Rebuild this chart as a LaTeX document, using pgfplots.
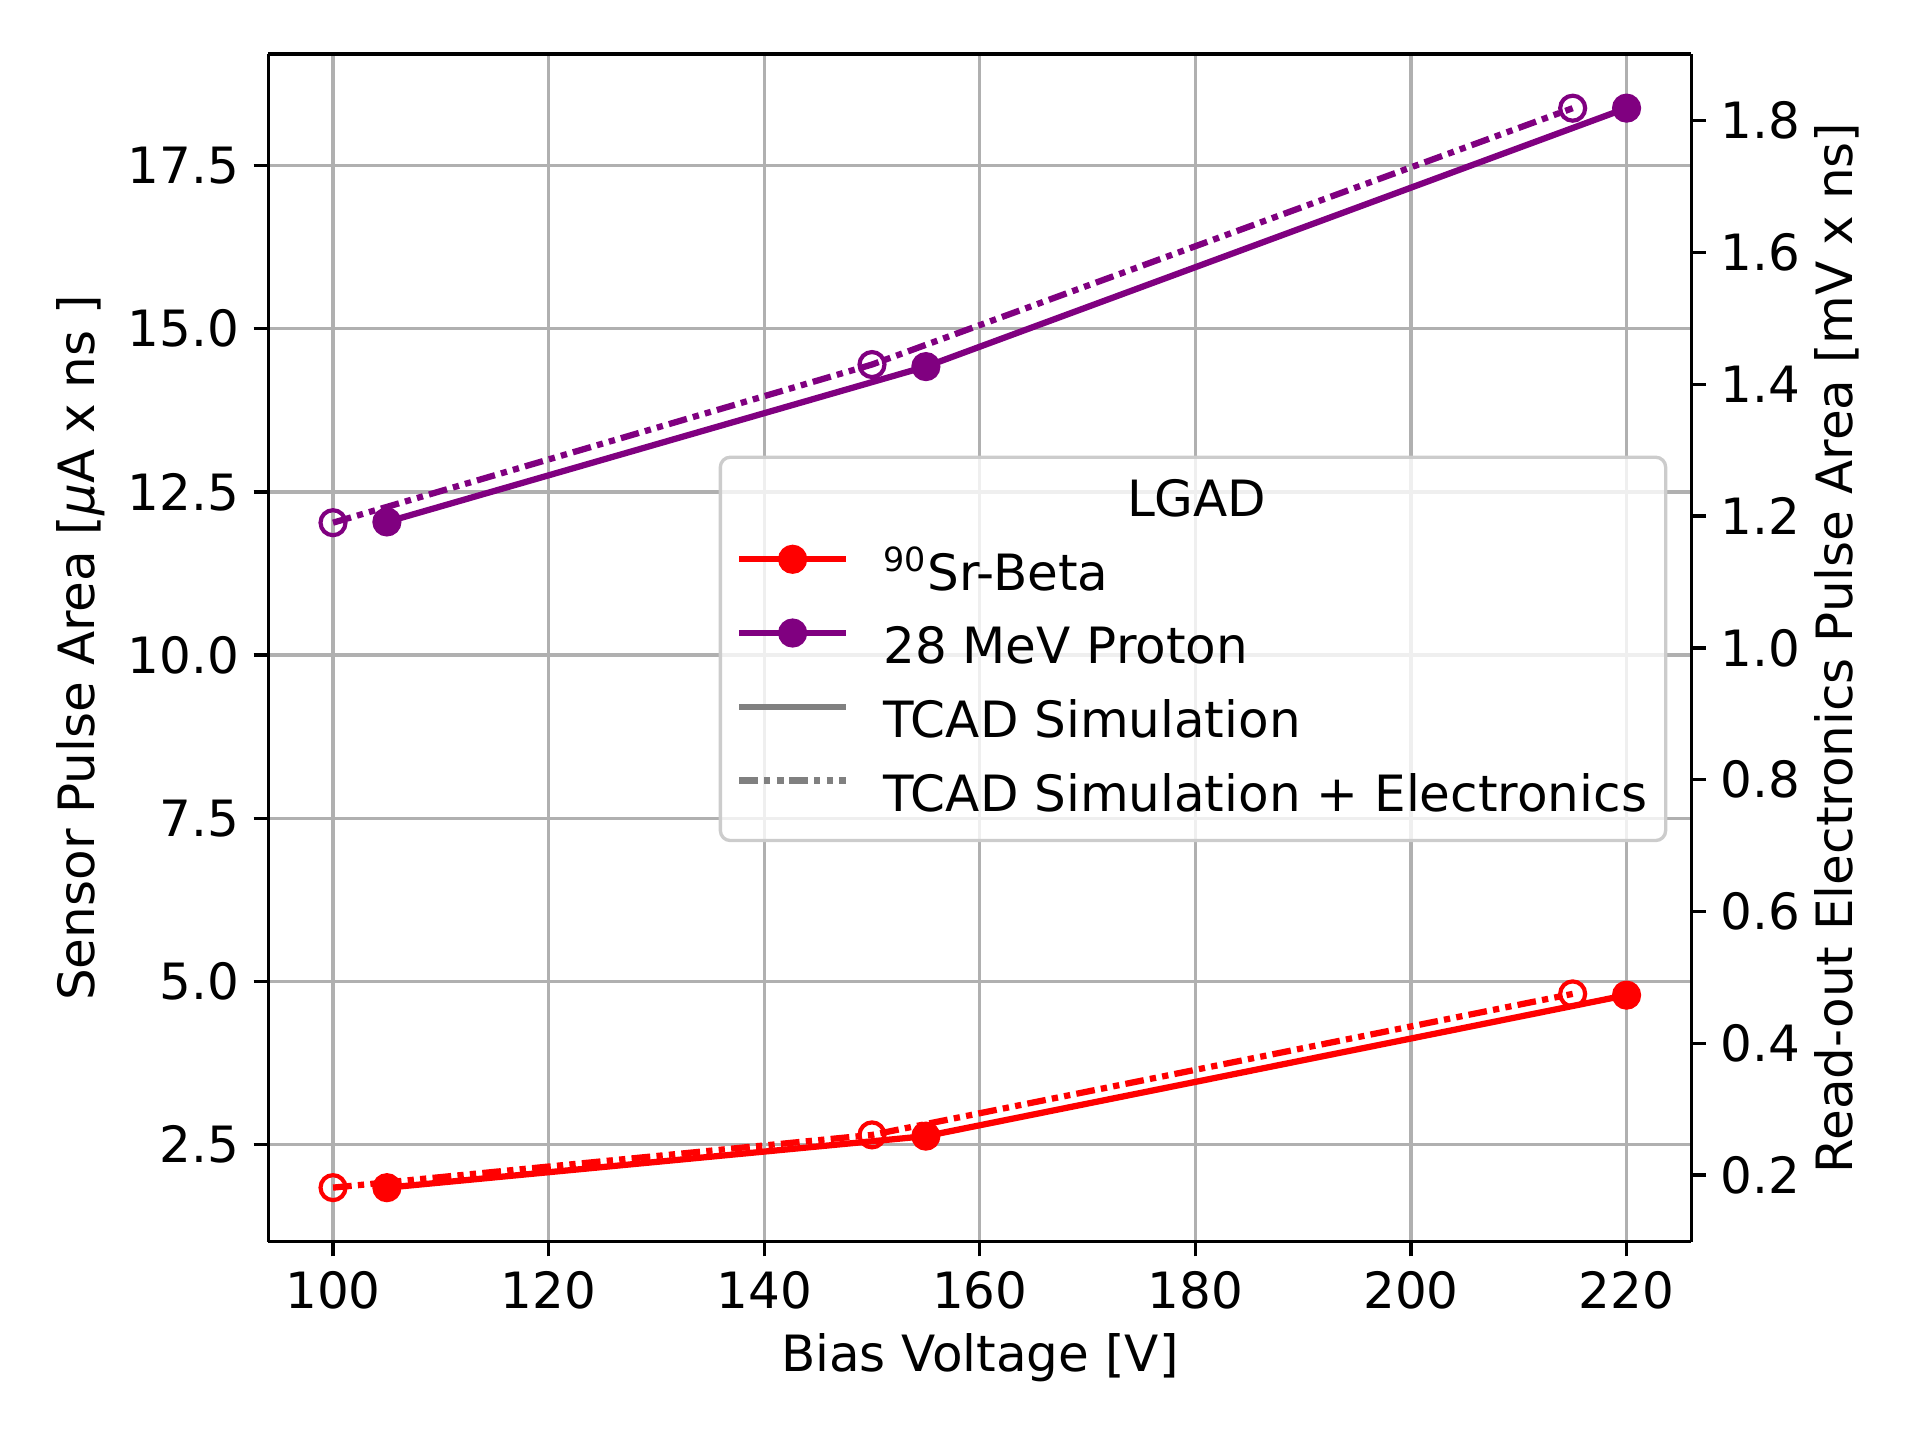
\documentclass[border=0pt]{standalone}
\usepackage{fontspec}
\setmainfont{DejaVu Sans}
\usepackage{pgfplots}
\pgfplotsset{compat=1.18}
\definecolor{mpred}{HTML}{FF0000}
\definecolor{mppurple}{HTML}{800080}
\definecolor{gridgray}{HTML}{B0B0B0}
\definecolor{leggray}{HTML}{CCCCCC}
\definecolor{lgray}{HTML}{808080}
\tikzset{ddot/.style={dash pattern=on 4.5pt off 1.5pt on 1.5pt off 1.5pt on 1.5pt off 1.5pt}}
\pgfplotsset{
  common/.style={
    scale only axis, width=341.5pt, height=285.0pt,
    xmin=94, xmax=226,
    font=\fontsize{12}{14.4}\selectfont,
    /pgf/number format/assume math mode=true,
    tick align=outside, major tick length=3.5pt,
    every tick/.style={black, line width=0.8pt},
    axis line style={line width=0.8pt},
    tick label style={font=\fontsize{12}{14.4}\selectfont},
    label style={font=\fontsize{12}{14.4}\selectfont},
    every axis plot/.append style={line width=1.5pt},
  },
}
\begin{document}
\begin{tikzpicture}
\begin{axis}[common, name=ax1,
  ymin=1.013, ymax=19.207,
  xtick={100,120,...,220},
  ytick={2.5,5,7.5,10,12.5,15,17.5},
  yticklabel style={/pgf/number format/.cd, fixed, fixed zerofill, precision=1},
  grid=major, major grid style={gridgray, line width=0.8pt},
  xlabel={Bias Voltage [V]},
  ylabel={Sensor Pulse Area [\textit{μ}A x ns ]},
  xlabel style={at={(axis description cs:0.5,-0.098)}, anchor=center},
  ylabel style={at={(axis description cs:-0.1316,0.5)}, anchor=center},
  axis x line*=bottom, axis y line*=left,
]
\addplot[mpred, mark=*, mark size=3pt, mark options={solid, line width=1pt}] coordinates {(105,1.84) (155,2.63) (220,4.79)};
\addplot[mppurple, mark=*, mark size=3pt, mark options={solid, line width=1pt}] coordinates {(105,12.04) (155,14.42) (220,18.38)};
\end{axis}
\draw[line width=0.8pt] (ax1.north west) -- (ax1.north east);
\begin{axis}[common, name=ax2,
  ymin=0.099, ymax=1.901,
  axis x line=none, axis y line*=right,
  ytick={0.2,0.4,...,1.8},
  yticklabel style={/pgf/number format/.cd, fixed, fixed zerofill, precision=1},
  ylabel={Read-out Electronics Pulse Area [mV x ns]},
  ylabel style={at={(axis description cs:1.1023,0.5)}, anchor=center},
  legend cell align=left,
  legend style={at={(0.3165,0.662)}, anchor=north west,
    draw=leggray, line width=0.8pt, rounded corners=2.4pt,
    fill=white, fill opacity=0.8, text opacity=1,
    inner xsep=4.5pt, inner ysep=4pt, row sep=5.7pt,
    nodes={inner sep=0pt, text height=9pt, text depth=3pt, font=\fontsize{12}{14.4}\selectfont},
    /tikz/every odd column/.append style={column sep=8.9pt}},
  legend image code/.code={%
    \pgfpathrectangle{\pgfpoint{0pt}{4pt}}{\pgfpoint{25.7pt}{0.8pt}}\pgfusepath{use as bounding box}%
    \draw[overlay, opacity=1, mark repeat=2,mark phase=2,#1] plot coordinates {(0pt,4.4pt) (12.85pt,4.4pt) (25.7pt,4.4pt)};},
]
\addplot[mpred, ddot, mark=o, mark size=3pt, mark options={solid, line width=1pt}, forget plot] coordinates {(100,0.181) (150,0.261) (215,0.475)};
\addplot[mppurple, ddot, mark=o, mark size=3pt, mark options={solid, line width=1pt}, forget plot] coordinates {(100,1.190) (150,1.430) (215,1.819)};
\addlegendimage{empty legend}
\addlegendentry[text height=10.2pt]{\hspace*{58.5pt}LGAD}
\addlegendimage{mpred, line width=1.5pt, mark=*, mark size=3pt, mark options={solid, line width=1pt}}
\addlegendentry{\textsuperscript{90}Sr-Beta}
\addlegendimage{mppurple, line width=1.5pt, mark=*, mark size=3pt, mark options={solid, line width=1pt}}
\addlegendentry{28 MeV Proton}
\addlegendimage{lgray, line width=1.5pt}
\addlegendentry{TCAD Simulation}
\addlegendimage{lgray, line width=1.5pt, ddot}
\addlegendentry{TCAD Simulation + Electronics}
\end{axis}
\path (ax1.south west) ++(-64.4pt,-47.6pt) rectangle ++(460.8pt,345.6pt);
\end{tikzpicture}
\end{document}
